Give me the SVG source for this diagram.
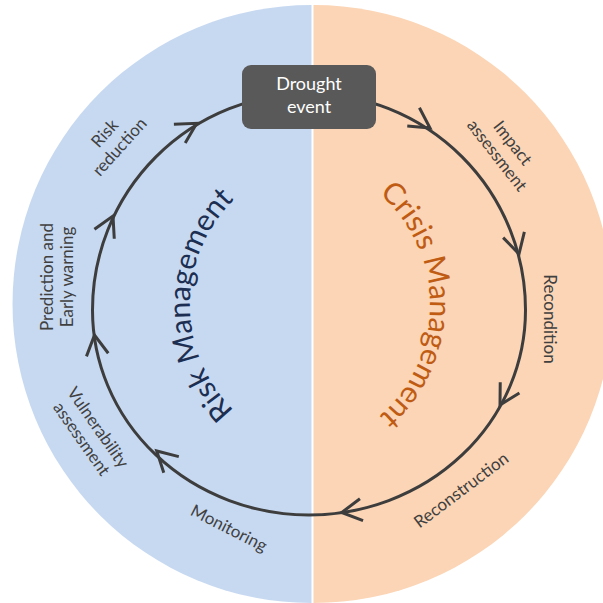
<svg xmlns="http://www.w3.org/2000/svg" xmlns:xlink="http://www.w3.org/1999/xlink" width="603" height="603" viewBox="0 0 603 603">
  <style>
    .label { font-family: Lato, "Open Sans", "Liberation Sans", sans-serif; font-size: 17px; fill: #404040; text-anchor: middle; }
    .title { font-family: Lato, "Open Sans", "Liberation Sans", sans-serif; font-size: 30px; text-anchor: middle; }
    .ring { fill: none; stroke: #3d3d3d; stroke-width: 3; }
    .chev { fill: none; stroke: #3d3d3d; stroke-width: 3; stroke-linejoin: miter; }
  </style>
  <defs>
    <path id="chevron" class="chev" d="M -20,-11 L 0,0 L -20,11"/>
    <path id="riskArc" d="M 338,453 A 148 148 0 0 1 338,157"/>
    <path id="crisisArc" d="M 283,158 A 147 147 0 0 1 283,452"/>
  </defs>

  <!-- background halves -->
  <g id="halves">
    <path d="M 311.5,5 A 299 299 0 0 0 311.5,603 Z" fill="#c7d9f1"/>
    <path d="M 313.5,5 A 299 299 0 0 1 313.5,603 Z" fill="#fbd5b5"/>
  </g>

  <!-- section titles -->
  <g id="risk-management">
    <text class="title" fill="#1c2f52"><textPath xlink:href="#riskArc" href="#riskArc" startOffset="50%">Risk Management</textPath></text>
  </g>
  <g id="crisis-management">
    <text class="title" fill="#bf5b13"><textPath xlink:href="#crisisArc" href="#crisisArc" startOffset="50%">Crisis Management</textPath></text>
  </g>

  <!-- cycle connector with arrowheads -->
  <g id="connectors">
    <path class="ring" d="M 92.5,310 A 216.5 216.5 0 0 1 525.5,310 A 216.5 205 0 0 1 92.5,310 Z"/>
    <use href="#chevron" transform="translate(430,128) rotate(33.6)"/>
    <use href="#chevron" transform="translate(519,254) rotate(74.8)"/>
    <use href="#chevron" transform="translate(500,405) rotate(119.4)"/>
    <use href="#chevron" transform="translate(341.7,512.5) rotate(171.8)"/>
    <use href="#chevron" transform="translate(156.7,451) rotate(223.1)"/>
    <use href="#chevron" transform="translate(94.5,335) rotate(261.8)"/>
    <use href="#chevron" transform="translate(113,216) rotate(295.6)"/>
    <use href="#chevron" transform="translate(196.7,123.3) rotate(329)"/>
  </g>

  <!-- drought event node -->
  <g id="drought-event">
    <rect x="242" y="65" width="134" height="64" rx="9" fill="#595959"/>
    <text x="309" y="90" font-family="Lato, 'Open Sans', 'Liberation Sans', sans-serif" font-size="18" fill="#ffffff" text-anchor="middle">Drought</text>
    <text x="309" y="112.5" font-family="Lato, 'Open Sans', 'Liberation Sans', sans-serif" font-size="18" fill="#ffffff" text-anchor="middle">event</text>
  </g>

  <!-- stage labels -->
  <g id="impact-assessment" transform="translate(505,149) rotate(52)">
    <text class="label" y="-4">Impact</text>
    <text class="label" y="16">assessment</text>
  </g>
  <g id="recondition" transform="translate(550,319) rotate(90)">
    <text class="label" y="6">Recondition</text>
  </g>
  <g id="reconstruction" transform="translate(461,490) rotate(-37)">
    <text class="label" y="6">Reconstruction</text>
  </g>
  <g id="monitoring" transform="translate(229,528) rotate(27)">
    <text class="label" y="6">Monitoring</text>
  </g>
  <g id="vulnerability-assessment" transform="translate(90,433) rotate(55)">
    <text class="label" y="-4">Vulnerability</text>
    <text class="label" y="16">assessment</text>
  </g>
  <g id="prediction-early-warning" transform="translate(63,277) rotate(-90)">
    <text class="label" y="-10">Prediction and</text>
    <text class="label" y="10">Early warning</text>
  </g>
  <g id="risk-reduction" transform="translate(112,140) rotate(-48)">
    <text class="label" y="-4">Risk</text>
    <text class="label" y="16">reduction</text>
  </g>
</svg>
